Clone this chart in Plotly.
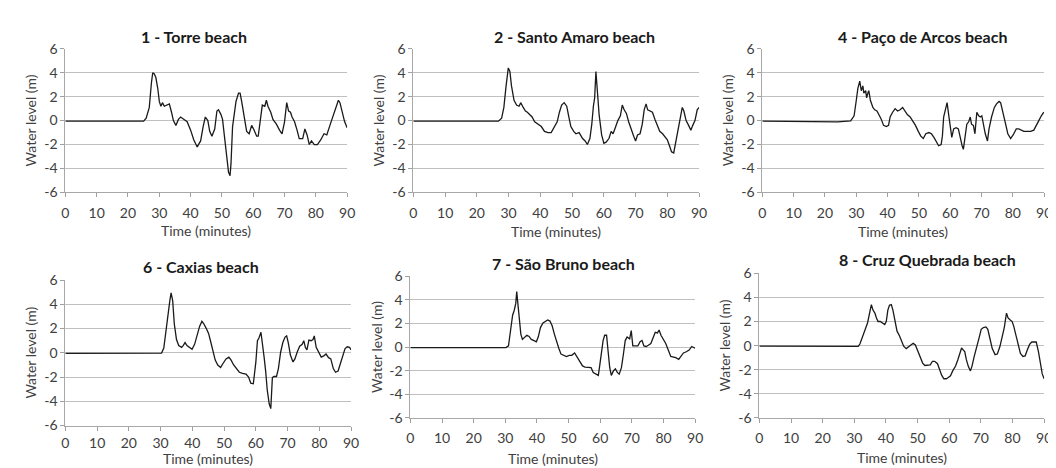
import plotly.graph_objects as go

titles = ["1 - Torre beach", "2 - Santo Amaro beach", "4 - Paço de Arcos beach",
          "6 - Caxias beach", "7 - São Bruno beach", "8 - Cruz Quebrada beach"]
x_ticks = [0, 10, 20, 30, 40, 50, 60, 70, 80, 90]
y_ticks = [-6, -4, -2, 0, 2, 4, 6]
y_tick_labels = ["-6", "-4", "-2", "0", "2", "4", "6"]

t1 = [0, 10, 20, 23.7, 25.0, 25.8, 26.8, 27.5, 27.9, 28.4, 28.9, 29.5, 30, 30.5, 31, 31.6, 32.3, 33.2, 33.9, 34.5,
      35.3, 36.1, 36.8, 37.9, 38.9, 40, 41, 42.1, 43.2, 44, 44.7, 45.5, 46.1, 46.8, 47.7, 48.4, 48.9, 49.7,
      50.2, 50.8, 51.4, 51.7, 52.1, 52.6, 52.9, 53.4, 54, 54.5, 55.3, 55.8, 56.3, 57.2, 57.9, 58.7, 59.5,
      60.3, 61.1, 61.6, 62.3, 62.9, 63.7, 64.2, 64.7, 65.6, 66.3, 67.4, 68.4, 69.2, 70, 70.7, 71.3, 71.9,
      72.4, 73.2, 74, 74.7, 75.8, 76.5, 77.2, 77.9, 78.6, 79.5, 80.5, 81.6, 82.6, 83.5, 84.5, 85.6, 86.3,
      87.2, 87.7, 88.4, 89.2, 90]
y1 = [-0.05, -0.05, -0.08, -0.1, -0.05, 0.2, 1.1, 3.2, 4.0, 3.9, 3.6, 2.7, 1.6, 1.2, 1.5, 1.2, 1.3, 1.4, 0.7, 0,
      -0.4, 0.1, 0.3, 0.1, -0.1, -0.8, -1.6, -2.2, -1.7, -0.5, 0.3, 0, -0.9, -1.3, -0.7, 0.8, 0.9, 0.5,
      0.1, -1.3, -2.7, -3.9, -4.3, -4.6, -3.6, -0.5, 0.7, 1.6, 2.3, 2.3, 1.6, 0, -0.9, -1.1, -0.4,
      -0.8, -1.3, -1.3, 0, 1.3, 1.2, 1.7, 1.2, 0.7, 0.1, -0.3, -0.8, -1.1, -0.1, 1.5, 0.8, 0.7,
      0.3, -0.1, -0.8, -1.5, -1.5, -0.7, -1.2, -2.0, -1.7, -2.0, -2.0, -1.6, -1.1, -1.2, -0.4, 0.4, 0.9,
      1.7, 1.5, 0.7, -0.1, -0.6]

t2 = [0, 10, 20, 23.7, 26.8, 27.8, 28.5, 29.2, 29.9, 30.4, 30.9, 31.7, 32.5, 33.3, 33.8, 34.6, 35.3, 35.9, 36.6,
      37.4, 38.2, 39.2, 40.3, 41.3, 42.4, 43.4, 44.4, 45.3, 46, 46.7, 47.5, 48.3, 48.9, 49.6, 50.5, 51.2,
      52.2, 53.3, 54.1, 54.8, 55.6, 56.2, 56.7, 57.1, 57.5, 57.9, 58.5, 59.3, 60, 60.7, 61.6, 62.3, 62.9,
      63.6, 64.4, 65.2, 65.8, 66.4, 67.1, 67.8, 68.6, 69.4, 70, 70.6, 71.4, 72.1, 72.7, 73.3, 73.8, 74.5,
      75.3, 76.1, 76.8, 77.6, 78.5, 79.2, 80, 80.8, 81.3, 82, 82.6, 83.4, 84.1, 84.7, 85.2, 85.9, 86.7,
      87.4, 88, 88.7, 89.4, 90]
y2 = [-0.05, -0.05, -0.08, -0.1, -0.05, 0.2, 1.1, 2.9, 4.4, 4.1, 2.9, 1.7, 1.3, 1.2, 1.5, 1.1, 0.8, 0.7, 0.5,
      0.3, -0.1, -0.3, -0.5, -0.9, -1.0, -1.0, -0.5, -0.1, 0.7, 1.3, 1.5, 1.2, 0.4, -0.5, -0.9, -1.1,
      -1.0, -1.5, -1.7, -2.0, -1.5, -0.3, 1.2, 1.9, 4.1, 2.7, 0.5, -1.2, -1.9, -1.8, -1.5, -0.9, -1.1,
      -0.6, 0, 0.4, 1.3, 0.9, 0.6, -0.1, -0.8, -1.3, -1.7, -1.2, -1.1, -0.3, 0.9, 1.4, 0.9, 0.8,
      0.7, 0.1, -0.4, -0.9, -1.1, -1.3, -1.6, -2.2, -2.6, -2.7, -1.9, -0.7, 0.4, 1.1, 0.8, 0, -0.4,
      -0.8, -0.4, 0, 0.9, 1.1]

t3 = [0, 10, 20, 24, 28.2, 29.3, 30, 30.5, 31.1, 31.6, 32.1, 32.4, 33, 33.3, 33.8, 34, 34.5, 35.3, 35.9, 36.6,
      37.4, 38, 38.7, 39.6, 40.3, 40.8, 41.6, 42.4, 43.2, 44, 44.8, 45.6, 46.3, 47.2, 48, 48.9, 49.8, 50.6,
      51.4, 52.2, 53.2, 54, 54.8, 55.6, 56.3, 57.1, 57.5, 57.9, 58.3, 58.7, 59, 59.5, 60, 60.5, 61.1,
      61.9, 62.6, 63.3, 63.8, 64.2, 64.7, 65.3, 65.9, 66.4, 66.8, 67.4, 67.9, 68.5, 69.1, 69.6, 70.1,
      70.6, 71.2, 71.9, 72.4, 73.2, 74.1, 74.8, 75.6, 76.1, 76.9, 77.7, 78.4, 79.3, 80.1, 81.1, 81.9,
      82.8, 83.5, 84.6, 85.7, 86.7, 87.4, 88.3, 89.1, 89.9]
y3 = [-0.05, -0.05, -0.08, -0.1, -0.02, 0.4, 1.7, 2.7, 3.3, 2.5, 2.9, 2.3, 2.5, 1.9, 2.4, 2.5, 1.7, 1.1, 0.9, 0.8,
      0.4, 0.1, -0.4, -0.5, -0.4, 0.3, 0.7, 1.0, 0.8, 0.9, 1.1, 0.8, 0.5, 0.3, 0, -0.4, -0.9, -1.3,
      -1.5, -1.1, -1.0, -1.1, -1.4, -1.8, -2.1, -2.0, -1.3, 0.3, 0.7, 1.3, 1.5, 0.5, -0.5, -1.4, -0.7,
      -0.6, -0.7, -1.6, -2.1, -2.4, -1.5, -0.3, -0.1, 0.3, -0.3, -0.4, -1.1, 0.7, 0.4, 0.3, 0.4,
      -0.4, -1.1, -1.7, -0.7, 0.3, 1.1, 1.4, 1.6, 1.5, 0.7, -0.3, -1.1, -1.5, -1.2, -0.7, -0.7,
      -0.8, -0.9, -0.9, -0.9, -0.8, -0.5, 0, 0.4, 0.7]

t4 = [0, 10, 20, 26.7, 30.3, 31, 31.7, 32.4, 32.9, 33.3, 33.8, 34.3, 35, 35.7, 36.6, 37.1, 37.7, 38.3, 39.2,
      39.9, 40.7, 41.6, 42.3, 43, 43.6, 44.4, 45.1, 45.7, 46.5, 47.2, 48, 48.9, 49.6, 50.6, 51.5, 52.2,
      53, 54, 54.8, 55.8, 56.9, 57.7, 58.4, 59.2, 59.7, 60, 60.5, 61, 61.6, 62.1, 62.6, 63.1, 63.6, 64.2,
      64.7, 65.2, 65.7, 66.5, 67.1, 67.8, 68.5, 69.2, 69.7, 70.2, 70.9, 71.7, 72.3, 73, 73.8, 74.6,
      75.1, 75.6, 76.1, 76.7, 77.4, 78, 78.4, 79, 79.8, 80.6, 81.4, 82.1, 82.9, 83.6, 84.4, 85.1, 85.9,
      86.7, 87.4, 88.1, 88.8, 89.5, 90]
y4 = [-0.05, -0.05, -0.06, -0.08, -0.02, 0.4, 2.0, 3.2, 4.3, 4.95, 4.3, 2.4, 1.1, 0.6, 0.45, 0.6, 0.85, 0.6, 0.45,
      0.3, 0.7, 1.5, 2.2, 2.6, 2.4, 2.0, 1.6, 1.0, 0.1, -0.6, -1.0, -1.2, -0.9, -0.5, -0.35, -0.6,
      -1.0, -1.3, -1.6, -1.7, -1.75, -2.0, -2.5, -2.55, -1.55, -0.75, 1.0, 1.25, 1.7, 0.85, -0.35, -1.55, -3.1, -4.2,
      -4.6, -2.05, -1.95, -1.95, -1.3, 0.05, 0.85, 1.3, 1.4, 0.85, -0.2, -0.75, -0.5, 0.05, 0.55, 0.7,
      1.0, 0.45, 0.25, 1.05, 1.0, 1.1, 1.4, 0.45, 0.05, -0.35, -0.25, -0.1, -0.4, -0.5, -1.3, -1.6, -1.5,
      -0.75, -0.1, 0.35, 0.5, 0.45, 0.25]

t5 = [0, 10, 20, 27.1, 30.2, 31, 31.8, 32.3, 32.8, 33.3, 33.6, 34, 34.4, 34.9, 35.4, 36.1, 36.8, 37.5, 38.2,
      39.1, 39.8, 40.4, 41.1, 41.9, 42.7, 43.4, 44.1, 44.8, 45.5, 46.1, 46.9, 47.6, 48.4, 49.3, 50.2, 51,
      51.9, 52.6, 53.4, 54.4, 55.2, 56.2, 57.1, 57.8, 58.6, 59.4, 59.9, 60.4, 60.9, 61.4, 62, 62.5, 63,
      63.5, 64.2, 64.8, 65.4, 66, 66.7, 67.3, 67.9, 68.5, 69.3, 69.8, 70.3, 71, 71.9, 72.6, 73.2, 73.8,
      74.5, 75.2, 76, 76.8, 77.4, 78.1, 78.6, 79.2, 79.9, 80.7, 81.5, 82.3, 83.2, 83.9, 84.8, 85.5, 86.3,
      87.2, 88.1, 88.9, 89.4, 90]
y5 = [-0.05, -0.05, -0.06, -0.08, -0.05, 0.1, 1.8, 2.7, 3.1, 3.7, 4.7, 3.7, 2.3, 1.1, 0.65, 0.85, 1.0, 0.9, 0.65,
      0.55, 0.45, 0.85, 1.65, 2.05, 2.2, 2.3, 2.2, 1.8, 1.1, 0.55, -0.1, -0.6, -0.7, -0.8, -0.7, -0.7,
      -0.5, -0.8, -1.2, -1.6, -1.7, -1.7, -1.75, -2.15, -2.3, -2.4, -1.45, -0.25, 0.55, 1.0, 1.0, -0.4, -1.75,
      -2.4, -2.0, -1.85, -2.15, -2.3, -1.75, -0.65, 0.55, 0.85, 0.7, 1.4, 0.1, 0.1, 0.1, 0.45, 0.55, 0.1,
      0.05, 0.15, 0.3, 0.85, 1.25, 1.2, 1.45, 1.0, 0.7, 0.3, -0.25, -0.8, -0.85, -0.9, -1.05, -0.8, -0.5,
      -0.4, -0.25, 0.05, -0.05, -0.1]

t6 = [0, 10, 20, 27.1, 31.25, 31.8, 32.5, 33.3, 34.2, 34.9, 35.4, 35.9, 36.5, 37, 37.5, 38.2, 38.9, 39.6, 40.1,
      40.6, 41.1, 41.7, 42.2, 42.9, 43.5, 44.3, 45, 45.6, 46.4, 47.1, 47.9, 48.6, 49.3, 50, 50.8, 51.6,
      52.3, 53.1, 54, 54.7, 55.4, 56.3, 57, 57.6, 58.3, 59.1, 59.7, 60.4, 61.1, 62, 62.7, 63.3, 63.9, 64.4,
      64.9, 65.4, 66, 66.7, 67.2, 67.9, 68.8, 69.5, 70.1, 70.8, 71.6, 72.2, 72.9, 73.6, 74.5, 75.2, 76,
      76.8, 77.4, 78.1, 78.6, 79.2, 79.9, 80.4, 81, 81.7, 82.5, 83.3, 84, 84.7, 85.4, 86.1, 87, 87.5,
      88.2, 88.9, 89.4, 90]
y6 = [-0.05, -0.05, -0.06, -0.08, -0.06, 0.15, 0.7, 1.2, 1.9, 2.8, 3.4, 2.95, 2.7, 2.3, 2.0, 2.0, 1.9, 1.75, 2.0,
      2.95, 3.35, 3.4, 2.95, 2.0, 1.2, 0.8, 0.35, -0.05, -0.25, -0.1, 0.1, 0.2, 0.05, -0.4, -0.9, -1.45,
      -1.65, -1.65, -1.6, -1.3, -1.3, -1.5, -2.0, -2.45, -2.75, -2.75, -2.65, -2.5, -2.1, -1.7, -1.2, -0.75, -0.2, -0.35,
      -0.5, -1.15, -1.7, -2.1, -1.7, -0.9, -0.1, 0.7, 1.35, 1.5, 1.55, 1.35, 0.55, -0.25, -0.75, -0.7, -0.1,
      0.7, 1.5, 2.7, 2.3, 2.15, 2.0, 1.6, 0.95, 0.05, -0.65, -0.9, -0.85, -0.35, 0.1, 0.3, 0.3, 0.3,
      -0.5, -1.45, -2.35, -2.75]

series = [(t1, y1), (t2, y2), (t3, y3), (t4, y4), (t5, y5), (t6, y6)]

W, H = 1056, 468
# plot-area pixel boxes: (left, right, top, bottom)
boxes = [(54, 339, 33, 182), (406, 695, 33, 182), (759, 1044, 33, 182),
         (54, 343, 273, 424), (403, 691, 269, 416), (756, 1044, 266, 416)]
title_pos = [(184, 20), (569, 20), (921, 20), (191, 259), (558, 256), (926, 252)]
xtitle_y = [222, 223, 223, 458, 458, 457]
xlabel_standoff = [4, 4, 4, 1, 3, 3]

fig = go.Figure()
TXT = "#404040"
GRID = "#c0c0c0"
FONT = "Lato, 'Open Sans', sans-serif"

annotations = []
for i, ((tx, ty), (l, r, t, b)) in enumerate(zip(series, boxes)):
    k = "" if i == 0 else str(i + 1)
    fig.add_trace(go.Scatter(x=tx, y=ty, mode="lines", line=dict(color="#1a1a1a", width=1.3),
                             xaxis="x" + k, yaxis="y" + k, showlegend=False, hoverinfo="skip"))
    xd = [l / W, r / W]
    yd = [1 - b / H, 1 - t / H]
    fig.update_layout(**{
        "xaxis" + k: dict(domain=xd, anchor="y" + k, range=[0, 90], tickvals=x_ticks,
                          ticks="outside", ticklen=4, tickcolor="#a0a0a0", showgrid=False,
                          showline=True, linecolor="#a8a8a8", linewidth=1, zeroline=False,
                          ticklabelstandoff=xlabel_standoff[i],
                          tickfont=dict(family=FONT, size=14, color=TXT), fixedrange=True),
        "yaxis" + k: dict(domain=yd, anchor="x" + k, range=[-6, 6], tickvals=y_ticks,
                          ticktext=y_tick_labels,
                          ticks="outside", ticklen=4, tickcolor="#a0a0a0", showgrid=True,
                          gridcolor=GRID, gridwidth=1, showline=True, linecolor="#a8a8a8",
                          linewidth=1, zeroline=False,
                          tickfont=dict(family=FONT, size=14, color=TXT), fixedrange=True),
    })
    cx = (l + r) / 2 / W
    tx_px, ty_px = title_pos[i]
    annotations.append(dict(text="<b>" + titles[i] + "</b>", x=tx_px / W, y=1 - ty_px / H,
                            xref="paper", yref="paper", showarrow=False, xanchor="center",
                            yanchor="middle", font=dict(family=FONT, size=16, color="#1a1a1a")))
    annotations.append(dict(text="Time (minutes)", x=cx, y=1 - xtitle_y[i] / H,
                            xref="paper", yref="paper", showarrow=False, xanchor="center",
                            yanchor="middle", font=dict(family=FONT, size=14, color=TXT)))
    annotations.append(dict(text="Water level (m)", x=(l - 35) / W, y=1 - (t + b) / 2 / H,
                            xref="paper", yref="paper", showarrow=False, xanchor="center",
                            yanchor="middle", textangle=-90,
                            font=dict(family=FONT, size=14, color=TXT)))

fig.update_layout(width=W, height=H, margin=dict(l=0, r=0, t=0, b=0),
                  paper_bgcolor="white", plot_bgcolor="white", annotations=annotations)

fig.write_html("out.html")
